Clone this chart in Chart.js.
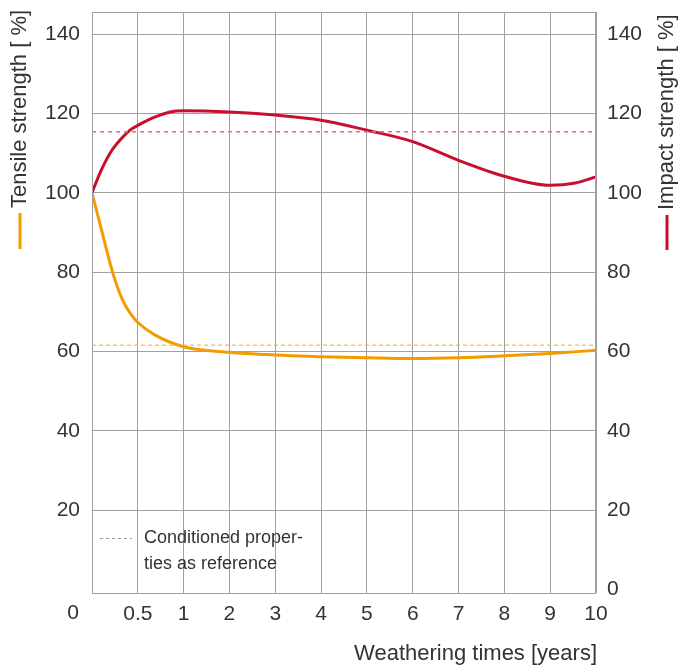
<!DOCTYPE html>
<html lang="en">
<head>
    <meta charset="UTF-8">
    <title>Weathering</title>
    <script src="https://cdn.jsdelivr.net/npm/chart.js"></script>
    <style>
        body { margin: 0; padding: 0; background: #fff; }
        .chart-box { width: 693px; height: 666px; }
    </style>
</head>
<body>
    <div class="chart-box"><canvas id="weatherChart"></canvas></div>

    <script>
        // x axis is not linear: 0, 0.5, 1, 2 ... 10 are equally spaced
        const xLabels = ['0', '0.5', '1', '2', '3', '4', '5', '6', '7', '8', '9', '10'];
        const yTicksLeft = [20, 40, 60, 80, 100, 120, 140];
        const yTicksRight = [0, 20, 40, 60, 80, 100, 120, 140];

        const tensileYears = [0, 0.10, 0.175, 0.24, 0.30, 0.357, 0.43, 0.5, 0.685, 1, 2, 3, 4, 5, 6, 7, 8, 9, 10];
        const tensileValues = [100, 91, 84.2, 78.8, 74.8, 71.9, 69.2, 67.3, 64.2, 61.2, 59.8, 59.1, 58.7, 58.4, 58.2, 58.4, 58.9, 59.5, 60.3];

        const impactYears = [0, 0.087, 0.197, 0.306, 0.415, 0.5, 0.633, 0.742, 0.85, 1, 2, 3, 4, 5, 6, 7, 8, 9, 9.55, 10];
        const impactValues = [100, 105, 110, 113.3, 115.8, 117, 118.6, 119.6, 120.4, 120.7, 120.4, 119.6, 118.3, 115.8, 112.9, 108.2, 104.2, 101.9, 102.5, 104];

        const tensileReference = 61.6;
        const impactReference = 115.4;

        const orange = '#f39c00';
        const red = '#c8102e';
        const gridGray = '#a0a0a0';
        const textColor = '#333';
        const fontFamily = "'Liberation Sans', Arial, sans-serif";

        function pos(year) {
            return year <= 1 ? year * 2 : year + 1;
        }
        function toPoints(years, values) {
            return years.map((y, i) => ({ x: pos(y), y: values[i] }));
        }

        const extras = {
            id: 'extras',
            afterDraw(chart) {
                const ctx = chart.ctx;
                const a = chart.chartArea;
                ctx.save();
                // frame
                ctx.strokeStyle = gridGray;
                ctx.lineWidth = 1;
                ctx.strokeRect(a.left + 0.5, a.top + 0.5, a.right - a.left - 1, a.bottom - a.top);

                ctx.fillStyle = textColor;
                ctx.font = '21px ' + fontFamily;
                ctx.textBaseline = 'middle';

                // corner zero
                ctx.textAlign = 'right';
                ctx.fillText('0', a.left - 13, 613);

                // x title
                ctx.font = '22px ' + fontFamily;
                ctx.textAlign = 'right';
                ctx.fillText('Weathering times [years]', a.right + 1, 654);

                // rotated axis titles with colour markers
                drawVTitle(ctx, 'Tensile strength [ %]', 20, 208, orange, 213, 249);
                drawVTitle(ctx, 'Impact strength [ %]', 667, 210, red, 215, 250);

                // legend note
                ctx.strokeStyle = '#999';
                ctx.lineWidth = 1;
                ctx.setLineDash([3, 3]);
                ctx.beginPath();
                ctx.moveTo(100, 538.5);
                ctx.lineTo(132, 538.5);
                ctx.stroke();
                ctx.setLineDash([]);
                ctx.fillStyle = textColor;
                ctx.font = '18px ' + fontFamily;
                ctx.textAlign = 'left';
                ctx.fillText('Conditioned proper-', 144, 538);
                ctx.fillText('ties as reference', 144, 564);
                ctx.restore();
            }
        };

        function drawVTitle(ctx, text, x, yStart, color, m0, m1) {
            ctx.save();
            ctx.translate(x, yStart);
            ctx.rotate(-Math.PI / 2);
            ctx.textAlign = 'left';
            ctx.textBaseline = 'middle';
            ctx.fillStyle = textColor;
            ctx.font = '22px ' + fontFamily;
            ctx.fillText(text, 0, 0);
            ctx.restore();
            ctx.strokeStyle = color;
            ctx.lineWidth = 3;
            ctx.beginPath();
            ctx.moveTo(x, m0);
            ctx.lineTo(x, m1);
            ctx.stroke();
        }

        function fitY(width) {
            return s => {
                s.width = width;
                s.paddingTop = 0;
                s.paddingBottom = 0;
            };
        }

        const ctx = document.getElementById('weatherChart').getContext('2d');
        new Chart(ctx, {
            type: 'line',
            data: {
                datasets: [
                    { label: 'Tensile reference', data: [{ x: 0, y: tensileReference }, { x: 11, y: tensileReference }],
                      borderColor: '#f0a640', borderWidth: 1, borderDash: [4, 3], pointRadius: 0, yAxisID: 'y' },
                    { label: 'Impact reference', data: [{ x: 0, y: impactReference }, { x: 11, y: impactReference }],
                      borderColor: '#d9707f', borderWidth: 1.5, borderDash: [4, 4], pointRadius: 0, yAxisID: 'y2' },
                    { label: 'Tensile strength', data: toPoints(tensileYears, tensileValues),
                      borderColor: orange, borderWidth: 3, pointRadius: 0, cubicInterpolationMode: 'monotone', yAxisID: 'y' },
                    { label: 'Impact strength', data: toPoints(impactYears, impactValues),
                      borderColor: red, borderWidth: 3, pointRadius: 0, cubicInterpolationMode: 'monotone', yAxisID: 'y2' }
                ]
            },
            options: {
                responsive: true,
                maintainAspectRatio: false,
                animation: false,
                layout: { padding: { top: 12, left: 0, right: 0, bottom: 0 } },
                plugins: { legend: { display: false }, tooltip: { enabled: false } },
                scales: {
                    x: {
                        type: 'linear', min: 0, max: 11,
                        afterBuildTicks: s => { s.ticks = xLabels.map((_, i) => ({ value: i })); },
                        afterFit: s => { s.height = 73; s.paddingLeft = 0; s.paddingRight = 0; },
                        ticks: {
                            callback: v => (v === 0 ? '' : xLabels[v]),
                            color: textColor, font: { family: fontFamily, size: 21 }, padding: 9, maxRotation: 0
                        },
                        grid: { color: gridGray, drawTicks: false },
                        border: { display: false }
                    },
                    y: {
                        position: 'left', min: -0.9, max: 145.6,
                        afterBuildTicks: s => { s.ticks = yTicksLeft.map(v => ({ value: v })); },
                        afterFit: fitY(92),
                        ticks: { color: textColor, font: { family: fontFamily, size: 21 }, padding: 12 },
                        grid: { color: gridGray, drawTicks: false },
                        border: { display: false }
                    },
                    y2: {
                        position: 'right', min: -0.9, max: 145.6,
                        afterBuildTicks: s => { s.ticks = yTicksRight.map(v => ({ value: v })); },
                        afterFit: fitY(97),
                        ticks: { color: textColor, font: { family: fontFamily, size: 21 }, padding: 11 },
                        grid: { display: false, drawTicks: false },
                        border: { display: false }
                    }
                }
            },
            plugins: [extras]
        });
    </script>
</body>
</html>
